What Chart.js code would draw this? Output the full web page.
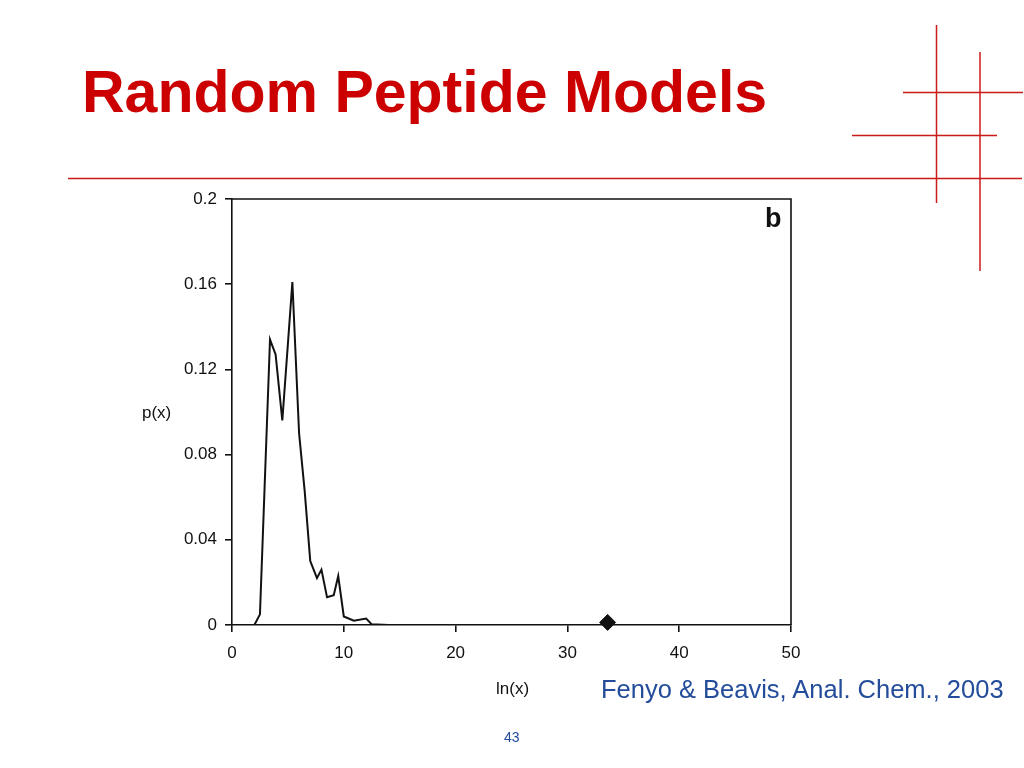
<!DOCTYPE html>
<html>
<head>
<meta charset="utf-8">
<script src="https://cdn.jsdelivr.net/npm/chart.js@4/dist/chart.umd.min.js"></script>
<style>
    html, body { margin: 0; padding: 0; background: #fff; }
    #page { position: relative; width: 1024px; height: 768px; overflow: hidden; font-family: "Liberation Sans", Arial, sans-serif; }
    #chartCanvas { position: absolute; left: 0; top: 0; }
    .txt { position: absolute; white-space: nowrap; line-height: 1; }
    #title { left: 82px; top: 63px; font-size: 59px; font-weight: bold; color: #cc0000; }
    #cite { left: 601px; top: 677px; font-size: 25.5px; color: #234c9a; }
    #pageNum { left: 504px; top: 730px; font-size: 14px; color: #234c9a; }
    #yLabel { left: 142px; top: 404px; font-size: 17px; color: #111; }
    #xLabel { left: 496px; top: 680px; font-size: 17px; color: #111; }
    #panel { left: 765px; top: 205px; font-size: 27px; font-weight: bold; color: #111; }
    svg { position: absolute; left: 0; top: 0; }
</style>
</head>
<body>
<div id="page">
    <canvas id="chartCanvas" width="1024" height="768"></canvas>
    <svg width="1024" height="768">
        <g stroke="#cc1a1a" stroke-width="1.5">
            <line x1="68" y1="178.5" x2="1022" y2="178.5"/>
            <line x1="936.5" y1="25" x2="936.5" y2="203"/>
            <line x1="980" y1="52" x2="980" y2="271"/>
            <line x1="903" y1="92.5" x2="1023" y2="92.5"/>
            <line x1="852" y1="135.5" x2="997" y2="135.5"/>
        </g>
    </svg>
    <div class="txt" id="title">Random Peptide Models</div>
    <div class="txt" id="yLabel">p(x)</div>
    <div class="txt" id="xLabel">ln(x)</div>
    <div class="txt" id="panel">b</div>
    <div class="txt" id="cite">Fenyo &amp; Beavis, Anal. Chem., 2003</div>
    <div class="txt" id="pageNum">43</div>
</div>
<script>
// distribution of ln(x) for random peptides
const lnX = [2.0, 2.5, 3.4, 3.9, 4.5, 5.0, 5.4, 6.0, 6.5, 7.0, 7.6, 8.0, 8.5, 9.1, 9.5, 10.0, 10.9, 12.0, 12.5, 14.0];
const pX  = [0, 0.005, 0.134, 0.127, 0.096, 0.132, 0.161, 0.090, 0.063, 0.030, 0.022, 0.026, 0.013, 0.014, 0.023, 0.004, 0.002, 0.003, 0.0003, 0];

// the single marked peptide
const markX = [33.6];
const markP = [0.0012];

const xTicks = [0, 10, 20, 30, 40, 50];
const yTicks = [0, 0.04, 0.08, 0.12, 0.16, 0.2];

// box around the plot area (top and right sides)
const frame = {
    id: 'frame',
    afterDraw(chart) {
        const a = chart.chartArea;
        const ctx = chart.ctx;
        ctx.save();
        ctx.strokeStyle = '#111';
        ctx.lineWidth = 1.6;
        ctx.beginPath();
        ctx.moveTo(a.left, a.top);
        ctx.lineTo(a.right, a.top);
        ctx.lineTo(a.right, a.bottom);
        ctx.stroke();
        ctx.restore();
    }
};

const ctx = document.getElementById('chartCanvas').getContext('2d');
new Chart(ctx, {
    type: 'scatter',
    data: {
        datasets: [{
            data: lnX.map((x, i) => ({ x: x, y: pX[i] })),
            showLine: true,
            borderColor: '#111',
            borderWidth: 2,
            pointRadius: 0,
            tension: 0
        }, {
            data: markX.map((x, i) => ({ x: x, y: markP[i] })),
            pointStyle: 'rectRot',
            pointRadius: 8,
            backgroundColor: '#111',
            borderColor: '#111',
            clip: false
        }]
    },
    options: {
        responsive: false,
        animation: false,
        layout: {
            padding: { top: 199, right: 233, left: 0, bottom: 0 }
        },
        plugins: {
            legend: { display: false },
            tooltip: { enabled: false }
        },
        scales: {
            x: {
                type: 'linear',
                min: 0,
                max: 50,
                afterBuildTicks: s => { s.ticks = xTicks.map(v => ({ value: v })); },
                afterFit: s => { s.height = 143; },
                grid: { drawOnChartArea: false, tickLength: 7, tickColor: '#111', lineWidth: 1.6 },
                border: { color: '#111', width: 1.6 },
                ticks: {
                    color: '#111',
                    padding: 11,
                    maxRotation: 0,
                    font: { family: 'Liberation Sans', size: 17 },
                    callback: v => String(v)
                }
            },
            y: {
                min: 0,
                max: 0.2,
                afterBuildTicks: s => { s.ticks = yTicks.map(v => ({ value: v })); },
                afterFit: s => { s.width = 232; },
                grid: { drawOnChartArea: false, tickLength: 7, tickColor: '#111', lineWidth: 1.6 },
                border: { color: '#111', width: 1.6 },
                ticks: {
                    color: '#111',
                    padding: 8,
                    font: { family: 'Liberation Sans', size: 17 },
                    callback: v => String(v)
                }
            }
        }
    },
    plugins: [frame]
});
</script>
</body>
</html>
